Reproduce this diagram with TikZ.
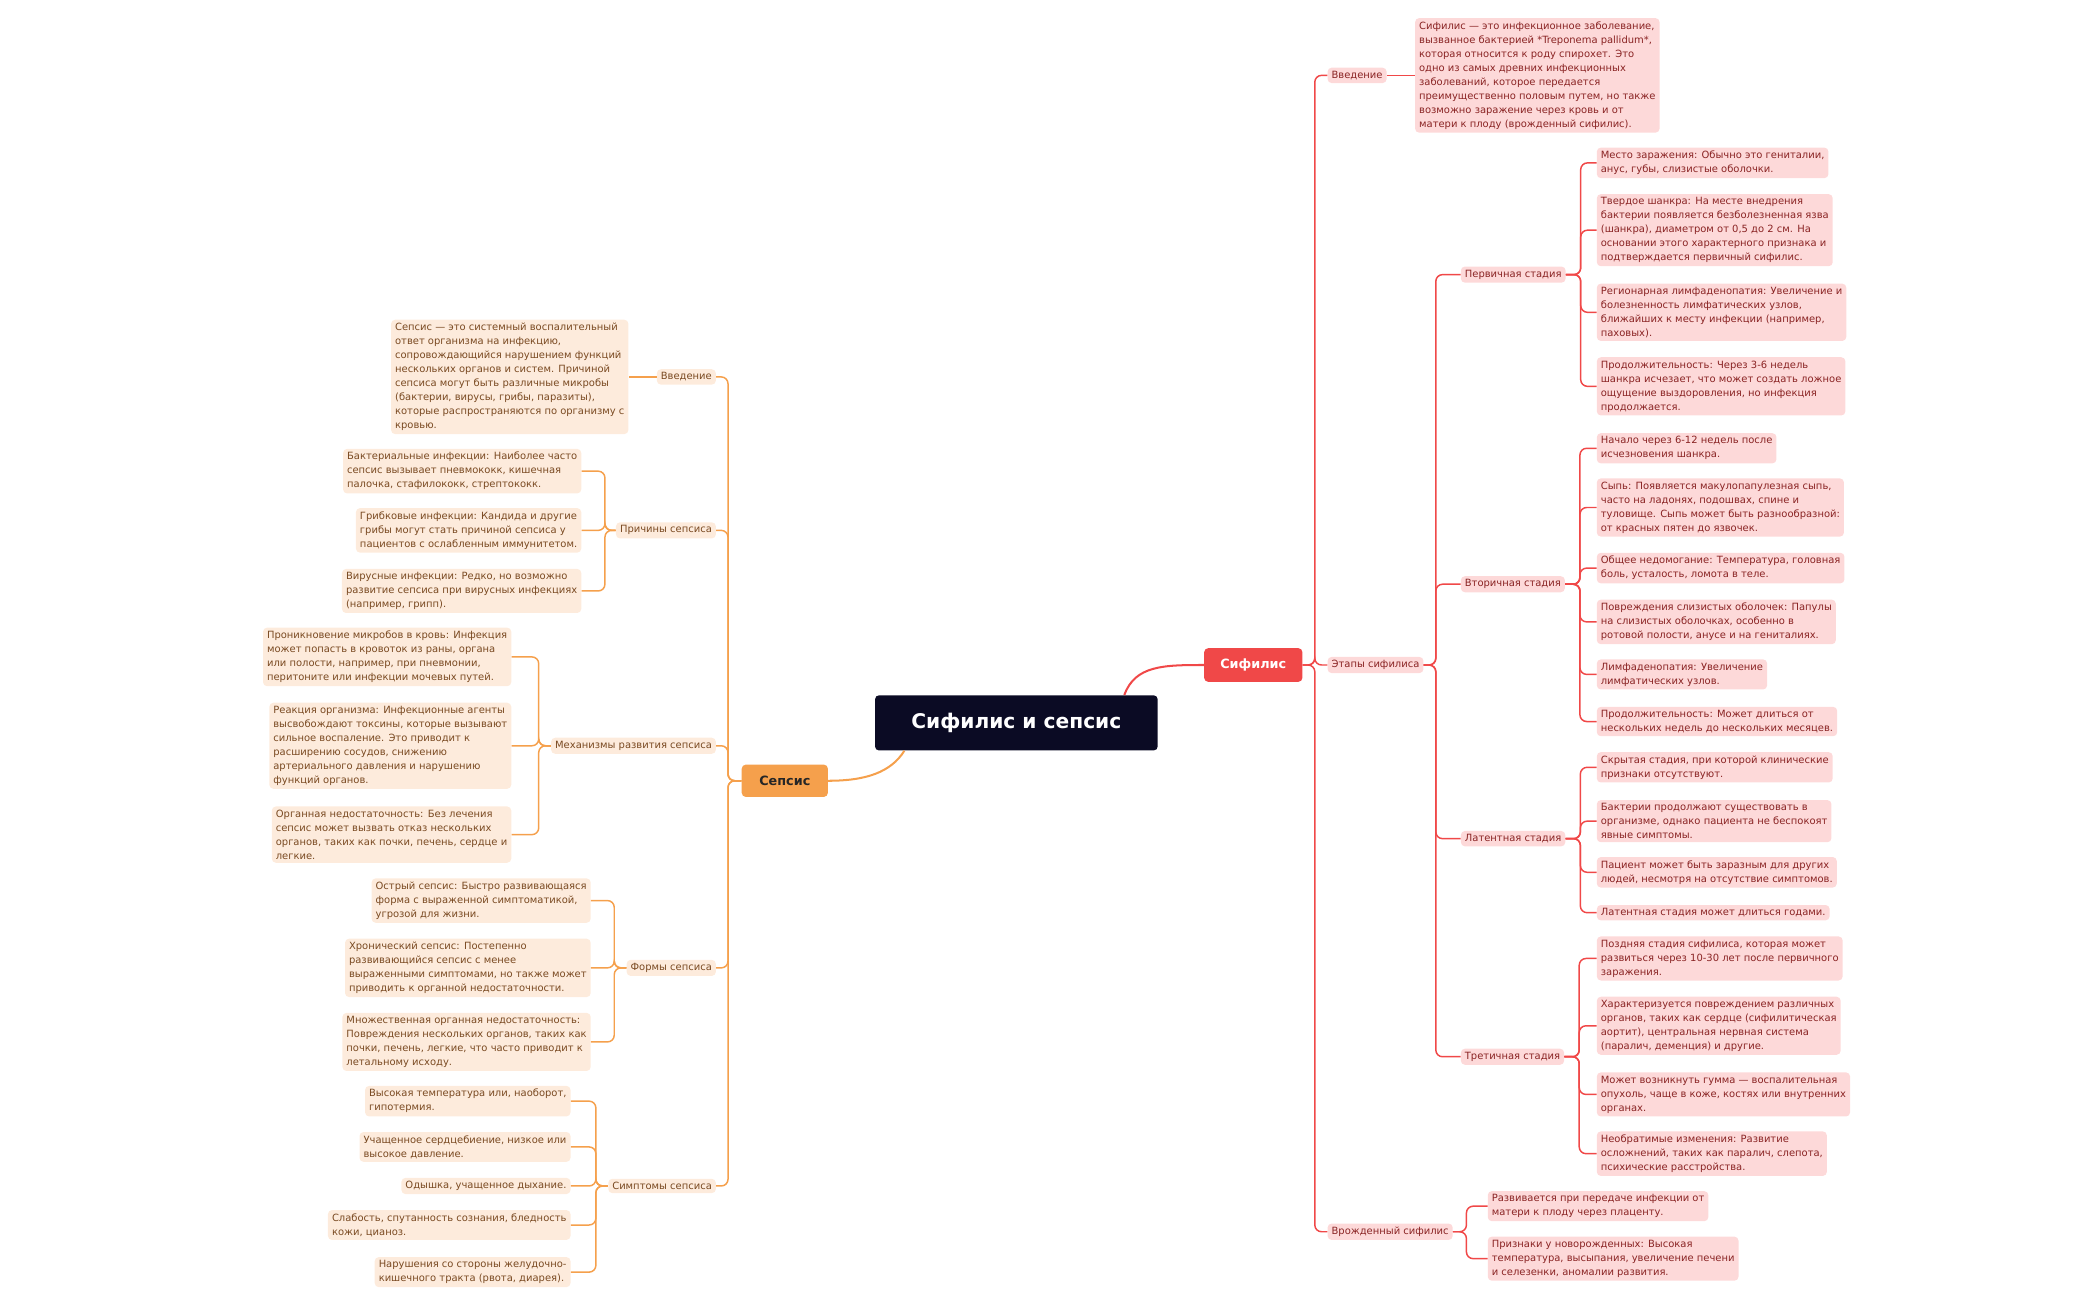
\documentclass[tikz,border=0pt]{standalone}
\usepackage{fontspec}
\setmainfont{DejaVu Sans}
\begin{document}
\definecolor{rl}{HTML}{F04848}
\definecolor{rf}{HTML}{FDD9D9}
\definecolor{rt}{HTML}{8A2424}
\definecolor{ol}{HTML}{F5A04C}
\definecolor{of}{HTML}{FDEBDC}
\definecolor{ot}{HTML}{7A4A22}
\definecolor{cf}{HTML}{0B0B24}
\begin{tikzpicture}[x=1pt,y=-1pt,
 base/.style={rounded corners=3pt,inner xsep=3pt,inner ysep=2.5pt,align=left,font=\fontsize{7.4}{10.4}\selectfont},
 rleaf/.style={base,fill=rf,text=rt},
 oleaf/.style={base,fill=of,text=ot},
 rline/.style={draw=rl,line width=1.1pt,rounded corners=5pt},
 oline/.style={draw=ol,line width=1.1pt,rounded corners=5pt}]
\useasboundingbox (0,0) rectangle (1560,965);
% central
\node[fill=cf,text=white,rounded corners=3pt,minimum width=210pt,minimum height=41pt,font=\bfseries\fontsize{15}{18}\selectfont] (c) at (755,537) {Сифилис и сепсис};
\node[fill=rl,text=white,rounded corners=3pt,minimum width=73pt,minimum height=25pt,font=\bfseries\fontsize{9.5}{11}\selectfont] (syph) at (931,494) {Сифилис};
\node[fill=ol,text=black!85,rounded corners=3pt,minimum width=64pt,minimum height=24pt,font=\bfseries\fontsize{9.5}{11}\selectfont] (seps) at (583,580) {Сепсис};
\draw[rl,line width=1.5pt] ([xshift=-25pt]c.north east) .. controls +(8,-22) and +(-30,0) .. (syph.west);
\draw[ol,line width=1.5pt] ([xshift=22pt]c.south west) .. controls +(-10,16) and +(28,0) .. (seps.east);
% syphilis level 1
\node[rleaf,anchor=west] (sv) at (986,56) {Введение};
\node[rleaf,anchor=west] (se) at (986,494) {Этапы сифилиса};
\node[rleaf,anchor=west] (sc) at (986,915) {Врожденный сифилис};
\foreach \n in {sv,se,sc} \draw[rline] (syph.east) -- ++(9,0) |- (\n.west);
\node[rleaf,anchor=west] (svt) at (1051,56) {Сифилис — это инфекционное заболевание,\\вызванное бактерией *Treponema pallidum*,\\которая относится к роду спирохет. Это\\одно из самых древних инфекционных\\заболеваний, которое передается\\преимущественно половым путем, но также\\возможно заражение через кровь и от\\матери к плоду (врожденный сифилис).};
\draw[rline] (sv.east) -- (svt.west);
% stages
\node[rleaf,anchor=west] (s1) at (1085,204) {Первичная стадия};
\node[rleaf,anchor=west] (s2) at (1085,434) {Вторичная стадия};
\node[rleaf,anchor=west] (s3) at (1085,623) {Латентная стадия};
\node[rleaf,anchor=west] (s4) at (1085,785) {Третичная стадия};
\foreach \n in {s1,s2,s3,s4} \draw[rline] (se.east) -- ++(9,0) |- (\n.west);
% primary
\node[rleaf,anchor=west] (a1) at (1186,121) {Место заражения: Обычно это гениталии,\\анус, губы, слизистые оболочки.};
\node[rleaf,anchor=west] (a2) at (1186,171) {Твердое шанкра: На месте внедрения\\бактерии появляется безболезненная язва\\(шанкра), диаметром от 0,5 до 2 см. На\\основании этого характерного признака и\\подтверждается первичный сифилис.};
\node[rleaf,anchor=west] (a3) at (1186,232) {Регионарная лимфаденопатия: Увеличение и\\болезненность лимфатических узлов,\\ближайших к месту инфекции (например,\\паховых).};
\node[rleaf,anchor=west] (a4) at (1186,287) {Продолжительность: Через 3-6 недель\\шанкра исчезает, что может создать ложное\\ощущение выздоровления, но инфекция\\продолжается.};
\foreach \n in {a1,a2,a3,a4} \draw[rline] (s1.east) -- ++(11,0) |- (\n.west);
% secondary
\node[rleaf,anchor=west] (b1) at (1186,333) {Начало через 6-12 недель после\\исчезновения шанкра.};
\node[rleaf,anchor=west] (b2) at (1186,377) {Сыпь: Появляется макулопапулезная сыпь,\\часто на ладонях, подошвах, спине и\\туловище. Сыпь может быть разнообразной:\\от красных пятен до язвочек.};
\node[rleaf,anchor=west] (b3) at (1186,422) {Общее недомогание: Температура, головная\\боль, усталость, ломота в теле.};
\node[rleaf,anchor=west] (b4) at (1186,462) {Повреждения слизистых оболочек: Папулы\\на слизистых оболочках, особенно в\\ротовой полости, анусе и на гениталиях.};
\node[rleaf,anchor=west] (b5) at (1186,501) {Лимфаденопатия: Увеличение\\лимфатических узлов.};
\node[rleaf,anchor=west] (b6) at (1186,536) {Продолжительность: Может длиться от\\нескольких недель до нескольких месяцев.};
\foreach \n in {b1,b2,b3,b4,b5,b6} \draw[rline] (s2.east) -- ++(11,0) |- (\n.west);
% latent
\node[rleaf,anchor=west] (l1) at (1186,570) {Скрытая стадия, при которой клинические\\признаки отсутствуют.};
\node[rleaf,anchor=west] (l2) at (1186,610) {Бактерии продолжают существовать в\\организме, однако пациента не беспокоят\\явные симптомы.};
\node[rleaf,anchor=west] (l3) at (1186,648) {Пациент может быть заразным для других\\людей, несмотря на отсутствие симптомов.};
\node[rleaf,anchor=west] (l4) at (1186,678) {Латентная стадия может длиться годами.};
\foreach \n in {l1,l2,l3,l4} \draw[rline] (s3.east) -- ++(11,0) |- (\n.west);
% tertiary
\node[rleaf,anchor=west] (t1) at (1186,712) {Поздняя стадия сифилиса, которая может\\развиться через 10-30 лет после первичного\\заражения.};
\node[rleaf,anchor=west] (t2) at (1186,762) {Характеризуется повреждением различных\\органов, таких как сердце (сифилитическая\\аортит), центральная нервная система\\(паралич, деменция) и другие.};
\node[rleaf,anchor=west] (t3) at (1186,813) {Может возникнуть гумма — воспалительная\\опухоль, чаще в коже, костях или внутренних\\органах.};
\node[rleaf,anchor=west] (t4) at (1186,857) {Необратимые изменения: Развитие\\осложнений, таких как паралич, слепота,\\психические расстройства.};
\foreach \n in {t1,t2,t3,t4} \draw[rline] (s4.east) -- ++(11,0) |- (\n.west);
% congenital
\node[rleaf,anchor=west] (k1) at (1105,896) {Развивается при передаче инфекции от\\матери к плоду через плаценту.};
\node[rleaf,anchor=west] (k2) at (1105,935) {Признаки у новорожденных: Высокая\\температура, высыпания, увеличение печени\\и селезенки, аномалии развития.};
\foreach \n in {k1,k2} \draw[rline] (sc.east) -- ++(10,0) |- (\n.west);
% sepsis level 1
\node[oleaf,anchor=east] (pv) at (532,280) {Введение};
\node[oleaf,anchor=east] (pp) at (532,394) {Причины сепсиса};
\node[oleaf,anchor=east] (pm) at (532,554) {Механизмы развития сепсиса};
\node[oleaf,anchor=east] (pf) at (532,719) {Формы сепсиса};
\node[oleaf,anchor=east] (ps) at (532,881) {Симптомы сепсиса};
\foreach \n in {pv,pp,pm,pf,ps} \draw[oline] (seps.west) -- ++(-10,0) |- (\n.east);
\node[oleaf,anchor=east] (pvt) at (467,280) {Сепсис — это системный воспалительный\\ответ организма на инфекцию,\\сопровождающийся нарушением функций\\нескольких органов и систем. Причиной\\сепсиса могут быть различные микробы\\(бактерии, вирусы, грибы, паразиты),\\которые распространяются по организму с\\кровью.};
\draw[oline] (pv.west) -- (pvt.east);
% causes
\node[oleaf,anchor=east] (c1) at (432,350) {Бактериальные инфекции: Наиболее часто\\сепсис вызывает пневмококк, кишечная\\палочка, стафилококк, стрептококк.};
\node[oleaf,anchor=east] (c2) at (432,394) {Грибковые инфекции: Кандида и другие\\грибы могут стать причиной сепсиса у\\пациентов с ослабленным иммунитетом.};
\node[oleaf,anchor=east] (c3) at (432,439) {Вирусные инфекции: Редко, но возможно\\развитие сепсиса при вирусных инфекциях\\(например, грипп).};
\foreach \n in {c1,c2,c3} \draw[oline] (pp.west) -- ++(-8,0) |- (\n.east);
% mechanisms
\node[oleaf,anchor=east] (m1) at (380,488) {Проникновение микробов в кровь: Инфекция\\может попасть в кровоток из раны, органа\\или полости, например, при пневмонии,\\перитоните или инфекции мочевых путей.};
\node[oleaf,anchor=east] (m2) at (380,554) {Реакция организма: Инфекционные агенты\\высвобождают токсины, которые вызывают\\сильное воспаление. Это приводит к\\расширению сосудов, снижению\\артериального давления и нарушению\\функций органов.};
\node[oleaf,anchor=east] (m3) at (380,620) {Органная недостаточность: Без лечения\\сепсис может вызвать отказ нескольких\\органов, таких как почки, печень, сердце и\\легкие.};
\foreach \n in {m1,m2,m3} \draw[oline] (pm.west) -- ++(-9,0) |- (\n.east);
% forms
\node[oleaf,anchor=east] (f1) at (439,669) {Острый сепсис: Быстро развивающаяся\\форма с выраженной симптоматикой,\\угрозой для жизни.};
\node[oleaf,anchor=east] (f2) at (439,719) {Хронический сепсис: Постепенно\\развивающийся сепсис с менее\\выраженными симптомами, но также может\\приводить к органной недостаточности.};
\node[oleaf,anchor=east] (f3) at (439,774) {Множественная органная недостаточность:\\Повреждения нескольких органов, таких как\\почки, печень, легкие, что часто приводит к\\летальному исходу.};
\foreach \n in {f1,f2,f3} \draw[oline] (pf.west) -- ++(-9,0) |- (\n.east);
% symptoms
\node[oleaf,anchor=east] (y1) at (424,818) {Высокая температура или, наоборот,\\гипотермия.};
\node[oleaf,anchor=east] (y2) at (424,852) {Учащенное сердцебиение, низкое или\\высокое давление.};
\node[oleaf,anchor=east] (y3) at (424,881) {Одышка, учащенное дыхание.};
\node[oleaf,anchor=east] (y4) at (424,910) {Слабость, спутанность сознания, бледность\\кожи, цианоз.};
\node[oleaf,anchor=east] (y5) at (424,945) {Нарушения со стороны желудочно-\\кишечного тракта (рвота, диарея).};
\foreach \n in {y1,y2,y3,y4,y5} \draw[oline] (ps.west) -- ++(-9,0) |- (\n.east);
\end{tikzpicture}
\end{document}
